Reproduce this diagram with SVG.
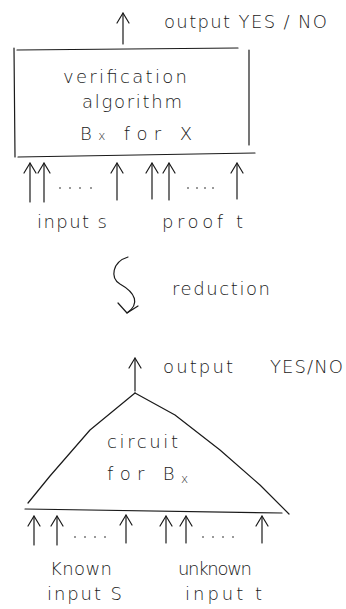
<svg xmlns="http://www.w3.org/2000/svg" width="346" height="609" viewBox="0 0 346 609">
<style>
.ln{fill:none;stroke:#1a1a1a;stroke-width:1.2;stroke-linecap:round;stroke-linejoin:round}
.t{font-family:"DejaVu Sans","Liberation Sans",sans-serif;font-weight:200;font-size:18px;fill:#1a1a1a}
.sub{font-size:12px}
.dot{fill:#1a1a1a}
</style>
<defs>
<marker id="ah" markerUnits="userSpaceOnUse" markerWidth="24" markerHeight="24" viewBox="-12 -12 24 24" refX="0" refY="0" orient="auto">
<path d="M-10,-6 L0,0 L-10,6" fill="none" stroke="#1a1a1a" stroke-width="1.2" stroke-linecap="round" stroke-linejoin="round"/>
</marker>
</defs>

<g id="verifier">
<path class="ln" d="M17,50 L238,48"/>
<path class="ln" d="M14,48 L15,157"/>
<path class="ln" d="M249,50 L249,145"/>
<path class="ln" d="M18,157 L255,153"/>
<text class="t" x="63" y="83" textLength="124" lengthAdjust="spacing">verification</text>
<text class="t" x="82" y="108" textLength="100" lengthAdjust="spacing">algorithm</text>
<text class="t" x="80" y="140" textLength="112" lengthAdjust="spacing">B<tspan class="sub">x</tspan> for X</text>
</g>

<g id="out-top">
<text class="t" x="164" y="28" textLength="163" lengthAdjust="spacing">output YES / NO</text>
</g>

<g id="inputs-top">
<circle class="dot" cx="60" cy="188" r="0.8"/><circle class="dot" cx="70" cy="188" r="0.8"/><circle class="dot" cx="80" cy="188" r="0.8"/><circle class="dot" cx="91" cy="188" r="0.8"/>
<circle class="dot" cx="188" cy="188" r="0.8"/><circle class="dot" cx="197" cy="188" r="0.8"/><circle class="dot" cx="205" cy="188" r="0.8"/><circle class="dot" cx="213" cy="188" r="0.8"/>
<text class="t" x="37" y="228" textLength="70" lengthAdjust="spacing">input s</text>
<text class="t" x="162" y="228" textLength="81" lengthAdjust="spacing">proof t</text>
</g>

<g id="reduction">
<text class="t" x="172" y="295" textLength="98" lengthAdjust="spacing">reduction</text>
</g>

<g id="circuit">
<path class="ln" d="M28,503 L50,476 L90,430 L135,393"/>
<path class="ln" d="M135,393 L175,415 L220,450 L260,485 L289,514"/>
<path class="ln" d="M25,509 L282,513"/>
<text class="t" x="107" y="448" textLength="71" lengthAdjust="spacing">circuit</text>
<text class="t" x="107" y="480" textLength="81" lengthAdjust="spacing">for  B<tspan class="sub" dy="3">x</tspan></text>
</g>

<g id="out-bottom">
<text class="t" x="163" y="373" textLength="70" lengthAdjust="spacing">output</text>
<text class="t" x="270" y="373" textLength="73" lengthAdjust="spacing">YES/NO</text>
</g>

<g id="inputs-bottom">
<circle class="dot" cx="75" cy="537" r="0.8"/><circle class="dot" cx="85" cy="537" r="0.8"/><circle class="dot" cx="95" cy="537" r="0.8"/><circle class="dot" cx="105" cy="537" r="0.8"/>
<circle class="dot" cx="203" cy="537" r="0.8"/><circle class="dot" cx="213" cy="537" r="0.8"/><circle class="dot" cx="223" cy="537" r="0.8"/><circle class="dot" cx="233" cy="537" r="0.8"/>
<text class="t" x="50" y="575" textLength="62" lengthAdjust="spacing">Known</text>
<text class="t" x="178" y="575" textLength="74" lengthAdjust="spacing">unknown</text>
<text class="t" x="47" y="600" textLength="75" lengthAdjust="spacing">input S</text>
<text class="t" x="185" y="600" textLength="77" lengthAdjust="spacing">input  t</text>
</g>

<g id="connectors">
<path class="ln" d="M123,44 L123,13" marker-end="url(#ah)"/>
<path class="ln" d="M30,202 L30,163" marker-end="url(#ah)"/>
<path class="ln" d="M44,202 L44,163" marker-end="url(#ah)"/>
<path class="ln" d="M117,200 L117,163" marker-end="url(#ah)"/>
<path class="ln" d="M152,199 L152,163" marker-end="url(#ah)"/>
<path class="ln" d="M169,200 L169,163" marker-end="url(#ah)"/>
<path class="ln" d="M237,199 L237,163" marker-end="url(#ah)"/>
<path class="ln" d="M128,257 C112,262 110,278 120,284 C136,293 140,304 127,313"/>
<path class="ln" d="M118,303 L127,313 L138,306"/>
<path class="ln" d="M135,391 L135,358" marker-end="url(#ah)"/>
<path class="ln" d="M34,545 L34,516" marker-end="url(#ah)"/>
<path class="ln" d="M57,545 L57,516" marker-end="url(#ah)"/>
<path class="ln" d="M126,543 L126,515" marker-end="url(#ah)"/>
<path class="ln" d="M166,543 L166,516" marker-end="url(#ah)"/>
<path class="ln" d="M186,543 L186,516" marker-end="url(#ah)"/>
<path class="ln" d="M262,543 L262,516" marker-end="url(#ah)"/>
</g>
</svg>
